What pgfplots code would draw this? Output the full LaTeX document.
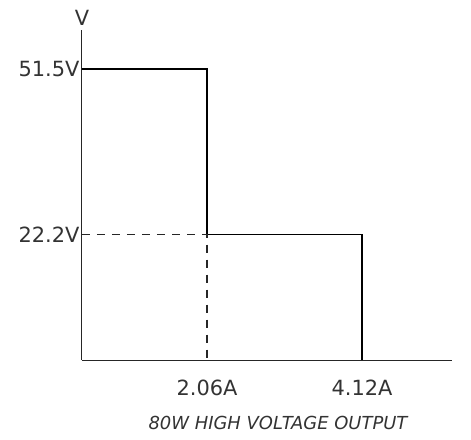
\documentclass[border=0pt]{standalone}
\usepackage{fontspec}
\setmainfont{DejaVu Sans}
\usepackage{pgfplots}
\pgfplotsset{compat=1.18}
\begin{document}
\begin{tikzpicture}[x=1bp,y=1bp]
\useasboundingbox (-82bp,-80bp) rectangle (389bp,360bp);
\begin{axis}[
  at={(0,0)}, anchor=south west,
  scale only axis, width=370bp, height=330bp,
  xmin=0, xmax=370, ymin=0, ymax=58.4,
  axis x line=bottom, axis y line=left,
  axis line style={-, line width=1bp, black!85},
  xtick={125,280}, xticklabels={2.06A,4.12A},
  ytick={22.2,51.5}, yticklabels={22.2V,51.5V},
  major tick length=0pt,
  tick label style={font=\fontsize{21}{24}\selectfont, text=black!80},
  yticklabel style={xshift=1bp},
  xticklabel style={yshift=-16bp},
  clip=false,
]
\addplot[black, line width=1.2bp] coordinates {(0,51.5) (125,51.5) (125,22.2) (280,22.2) (280,0)};
\addplot[black!85, line width=1.1bp, dash pattern=on 8bp off 7bp] coordinates {(0,22.2) (125,22.2) (125,0)};
\node[font=\fontsize{21}{24}\selectfont, text=black!80] at (axis cs:0,58.4) [above=1bp] {V};
\node[font=\fontsize{18}{22}\itshape\selectfont, text=black!80] at (axis cs:196,0) [yshift=-63bp] {80W HIGH VOLTAGE OUTPUT};
\end{axis}
\end{tikzpicture}
\end{document}
